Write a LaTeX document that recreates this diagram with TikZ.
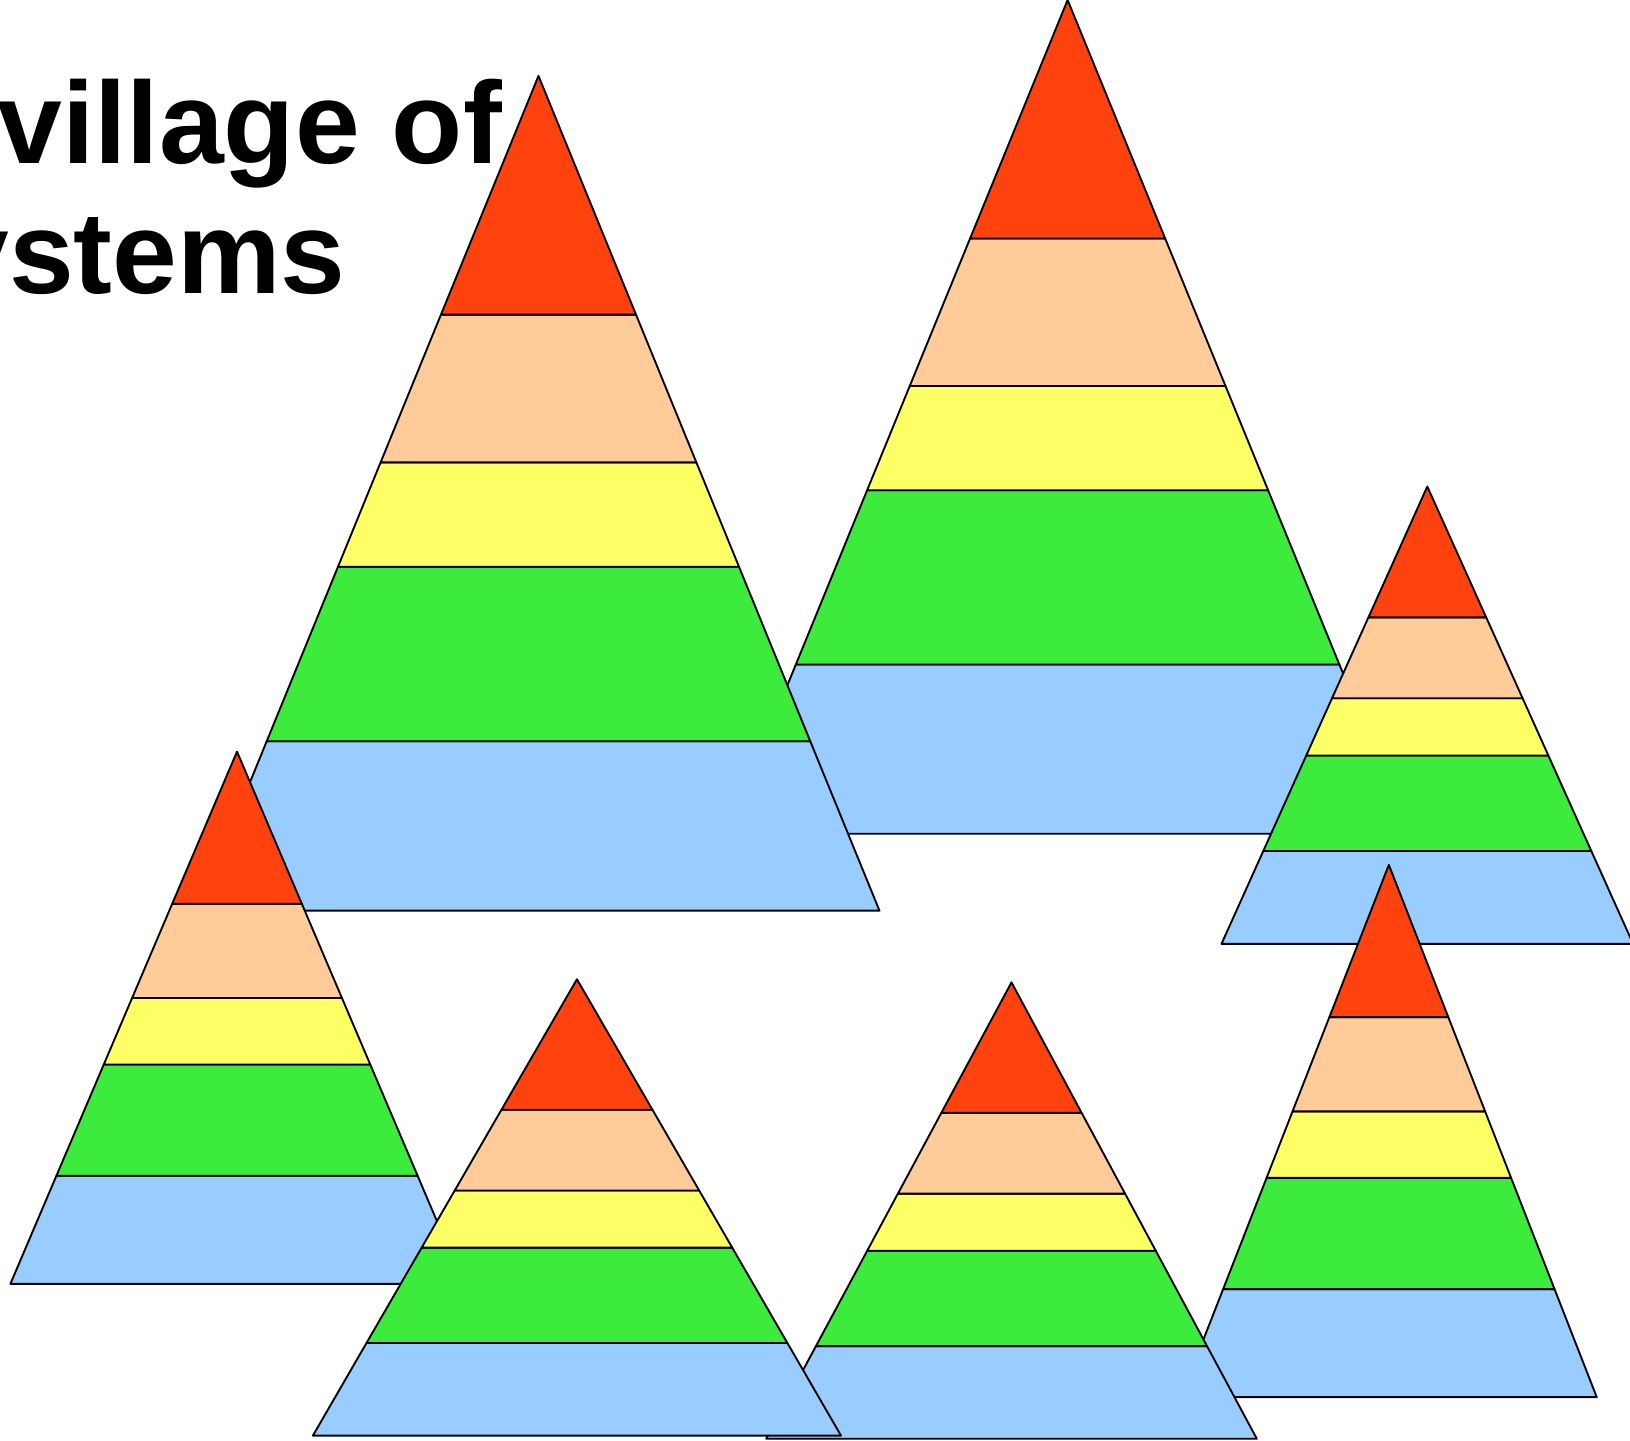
\documentclass[tikz,border=0pt]{standalone}
\usepackage{fontspec}
\setmainfont{Liberation Sans}
\usetikzlibrary{calc}
\definecolor{cRed}{HTML}{FF420E}
\definecolor{cPeach}{HTML}{FFCC99}
\definecolor{cYellow}{HTML}{FFFF66}
\definecolor{cGreen}{HTML}{3DEB3D}
\definecolor{cBlue}{HTML}{99CCFF}
\newcommand{\mypyramid}[4]{%
  \coordinate (T) at (#1,#2);
  \coordinate (L) at ({#1-#4},{#2+#3});
  \coordinate (R) at ({#1+#4},{#2+#3});
  \coordinate (L1) at ($(T)!0.286!(L)$); \coordinate (R1) at ($(T)!0.286!(R)$);
  \coordinate (L2) at ($(T)!0.463!(L)$); \coordinate (R2) at ($(T)!0.463!(R)$);
  \coordinate (L3) at ($(T)!0.588!(L)$); \coordinate (R3) at ($(T)!0.588!(R)$);
  \coordinate (L4) at ($(T)!0.797!(L)$); \coordinate (R4) at ($(T)!0.797!(R)$);
  \draw[layer,fill=cBlue] (L4) -- (R4) -- (R) -- (L) -- cycle;
  \draw[layer,fill=cGreen] (L3) -- (R3) -- (R4) -- (L4) -- cycle;
  \draw[layer,fill=cYellow] (L2) -- (R2) -- (R3) -- (L3) -- cycle;
  \draw[layer,fill=cPeach] (L1) -- (R1) -- (R2) -- (L2) -- cycle;
  \draw[layer,fill=cRed] (T) -- (R1) -- (L1) -- cycle;
}
\begin{document}
\begin{tikzpicture}[x=0.5pt,y=-0.5pt,
  layer/.style={draw=black,line width=0.9pt,line join=round},
  titletext/.style={anchor=base west,inner sep=0pt,font=\fontsize{56}{60}\selectfont\bfseries}]
\useasboundingbox (0,0) rectangle (1568,1386);
\clip (0,0) rectangle (1568,1386);
\fill[white] (0,0) rectangle (1568,1386);
\node[titletext] (t1) at (-3,157) {village of};
\node[titletext] (t2) at (-54,282) {ystems};
% pyramids, back to front
\mypyramid{1027}{0}{802}{328}
\mypyramid{518}{73}{803}{328}
\mypyramid{1373}{468}{440}{198}
\mypyramid{228}{723}{512}{218}
\mypyramid{1336}{832}{512}{200}
\mypyramid{973}{945}{439}{236}
\mypyramid{555}{942}{439}{254}
\end{tikzpicture}
\end{document}
